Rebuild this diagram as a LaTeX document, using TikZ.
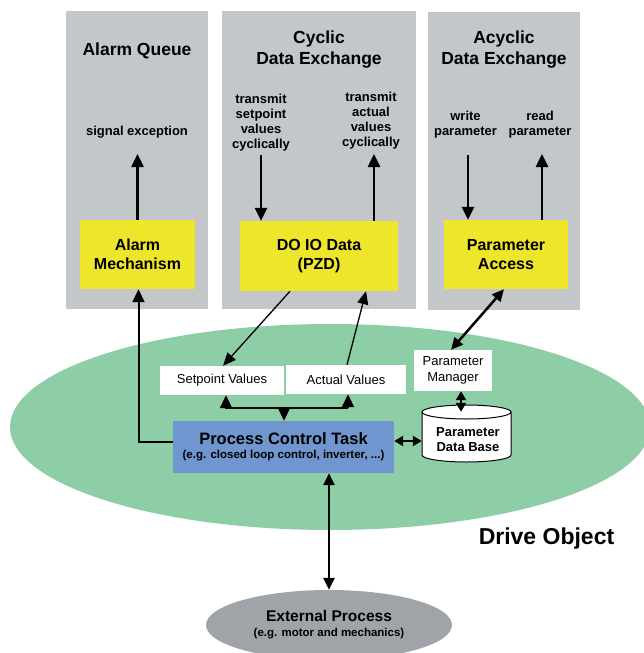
\documentclass[tikz,border=0pt]{standalone}
\usepackage{fontspec}
\setmainfont{Liberation Sans}
\usetikzlibrary{arrows.meta,shapes.geometric}
\definecolor{panelgray}{RGB}{196,199,202}
\definecolor{boxyellow}{RGB}{238,230,42}
\definecolor{drivegreen}{RGB}{142,206,167}
\definecolor{taskblue}{RGB}{111,150,207}
\definecolor{extgray}{RGB}{160,163,168}
\begin{document}
\begin{tikzpicture}[x=1pt,y=-1pt,
  panel/.style={fill=panelgray, draw=none, inner sep=0pt},
  title/.style={font=\fontsize{17.5}{21}\selectfont\bfseries, align=center, inner sep=0pt},
  lab/.style={font=\fontsize{13}{15}\selectfont\bfseries, align=center, inner sep=0pt},
  ybox/.style={fill=boxyellow, draw=none, font=\fontsize{16}{19}\selectfont\bfseries, align=center, inner sep=0pt},
  wbox/.style={fill=white, draw=none, font=\fontsize{13}{16}\selectfont, align=center, inner sep=0pt},
  arr/.style={line width=2.5pt, -{Triangle[length=13pt,width=12pt]}},
  thinarr/.style={line width=1.3pt, -{Triangle[length=13pt,width=11pt]}},
  dblarr/.style={line width=2.5pt, {Triangle[length=12pt,width=11pt]}-{Triangle[length=12pt,width=11pt]}},
  smalldbl/.style={line width=2.2pt, {Triangle[length=9pt,width=10pt]}-{Triangle[length=9pt,width=10pt]}}
]
\useasboundingbox (0,0) rectangle (643,653);

% drive object ellipse
\node[ellipse, fill=drivegreen, draw=none, minimum width=640pt, minimum height=206pt, inner sep=0pt] (drive) at (330,427) {};
\node[font=\fontsize{23}{27}\selectfont\bfseries, inner sep=0pt] (dotext) at (546.5,539) {Drive Object};

% panels
\node[panel, minimum width=142pt, minimum height=298pt] (paq) at (137,160) {};
\node[panel, minimum width=194pt, minimum height=298pt] (pcd) at (319,160) {};
\node[panel, minimum width=152pt, minimum height=298pt] (pad) at (504,161) {};

\node[title] (taq) at (137,51) {Alarm Queue};
\node[title] (tcd) at (319,50) {Cyclic\\Data Exchange};
\node[title] (tad) at (504,50) {Acyclic\\Data Exchange};

\node[lab] (lsig) at (137,132) {signal exception};
\node[lab] (lts) at (261,123) {transmit\\setpoint\\values\\cyclically};
\node[lab] (lta) at (371,121) {transmit\\actual\\values\\cyclically};
\node[lab] (lwp) at (465.5,125) {write\\parameter};
\node[lab] (lrp) at (540,125) {read\\parameter};

% yellow boxes
\node[ybox, minimum width=115pt, minimum height=69pt] (am) at (137.5,254.5) {Alarm\\Mechanism};
\node[ybox, minimum width=158pt, minimum height=70pt] (dio) at (319,256) {DO IO Data\\(PZD)};
\node[ybox, minimum width=124pt, minimum height=69pt] (pa) at (506,254.5) {Parameter\\Access};

% white boxes
\node[wbox, minimum width=124pt, minimum height=29pt] (sv) at (222,380.5) {Setpoint Values};
\node[wbox, minimum width=120pt, minimum height=29pt] (av) at (346,379.5) {Actual Values};
\node[wbox, minimum width=78pt, minimum height=41pt] (pm) at (453,370.5) {Parameter\\Manager};

% process control task
\node[fill=taskblue, draw=none, minimum width=221pt, minimum height=52pt, inner sep=0pt, align=center] (pct) at (283.5,447)
  {{\fontsize{16.5}{18}\selectfont\bfseries Process Control Task}\\[2pt]{\fontsize{11.5}{13}\selectfont\bfseries (e.g. closed loop control, inverter, ...)}};

% parameter data base cylinder
\fill[white] (422,412) -- (422,455) arc (180:360:44.5pt and 7pt) -- (511,412) arc (0:180:44.5pt and 7pt) -- cycle;
\draw[line width=1pt] (422,412) -- (422,455) arc (180:360:44.5pt and 7pt) -- (511,412) arc (0:180:44.5pt and 7pt) -- cycle;
\draw[line width=1pt] (511,412) arc (0:-180:44.5pt and 7pt);
\node[minimum width=89pt, minimum height=57pt, inner sep=0pt] (db) at (466.5,433.5) {};
\node[font=\fontsize{13}{15}\selectfont\bfseries, align=center, inner sep=0pt] (dbt) at (468,440) {Parameter\\Data Base};

% external process
\node[ellipse, fill=extgray, draw=none, minimum width=246pt, minimum height=70pt, inner sep=0pt, align=center] (ep) at (329,625)
  {{\fontsize{15.5}{17}\selectfont\bfseries External Process}\\[3pt]{\fontsize{11.5}{13}\selectfont\bfseries (e.g. motor and mechanics)}};

% free ends
\coordinate (sigtip) at (137.5,154);
\coordinate (tstail) at (261,155);
\coordinate (tatip) at (374,154);
\coordinate (wptail) at (468,155);
\coordinate (rptip) at (542,154);
\coordinate (j) at (284,408);

% connectors
\draw[arr] (am.north) -- (sigtip);
\draw[arr] (tstail) -- (tstail |- dio.north);
\draw[arr] (tatip |- dio.north) -- (tatip);
\draw[arr] (wptail) -- (wptail |- pa.north);
\draw[arr] (rptip |- pa.north) -- (rptip);

\draw[arr, line width=2pt] ([yshift=5pt]pct.west) -| ([xshift=1pt]am.south);
\draw[thinarr] ([xshift=-29pt]dio.south) -- ([xshift=1pt]sv.north);
\draw[thinarr] ([xshift=1pt]av.north) -- ([xshift=47pt]dio.south);
\draw[dblarr] ([xshift=-2pt]pa.south) -- ([xshift=-2pt]pm.north);

\draw[line width=2pt] ([xshift=4pt]sv.south |- j) -- ([xshift=2pt]av.south |- j);
\draw[arr, line width=2pt] (j) -- (j |- pct.north);
\draw[arr, line width=2pt] ([xshift=4pt]sv.south |- j) -- ([xshift=4pt]sv.south);
\draw[arr, line width=2pt] ([xshift=2pt]av.south |- j) -- ([xshift=2pt]av.south);

\draw[smalldbl] ([xshift=8pt]pm.south) -- ([xshift=-5.5pt,yshift=-7pt]db.north);
\draw[smalldbl] ([yshift=6pt]pct.east) -- ([yshift=6pt]pct.east -| db.west);
\draw[dblarr] (pct.south -| ep.north) -- (ep.north);
\end{tikzpicture}
\end{document}
